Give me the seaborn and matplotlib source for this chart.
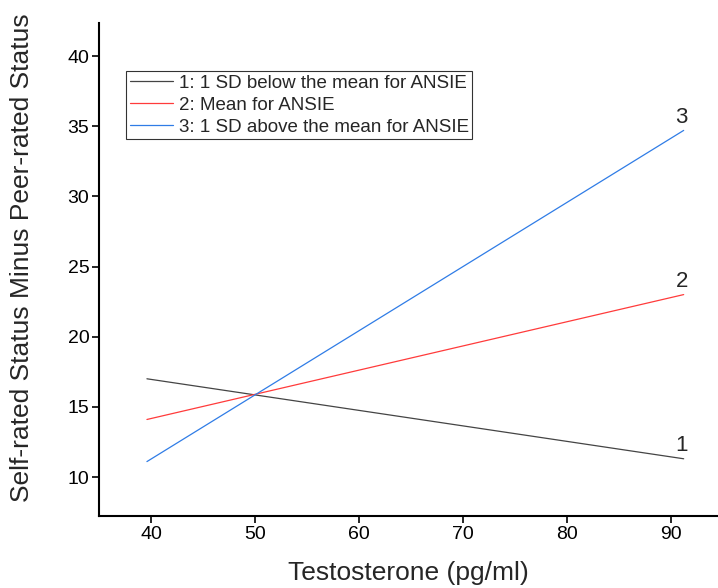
import matplotlib
matplotlib.use("Agg")
import matplotlib.pyplot as plt
import seaborn as sns
import pandas as pd

# Data
testosterone = [39.6, 91.2]
below_mean = [17.0, 11.3]
mean_ansie = [14.1, 23.0]
above_mean = [11.1, 34.7]
series_names = ["1: 1 SD below the mean for ANSIE",
                "2: Mean for ANSIE",
                "3: 1 SD above the mean for ANSIE"]
end_labels = ["1", "2", "3"]
x_ticks = [40, 50, 60, 70, 80, 90]
y_ticks = [10, 15, 20, 25, 30, 35, 40]

sns.set_style("ticks")
plt.rcParams['font.family'] = ['Liberation Sans', 'DejaVu Sans']

rows = []
for name, vals in zip(series_names, [below_mean, mean_ansie, above_mean]):
    for x, y in zip(testosterone, vals):
        rows.append({"Testosterone": x, "Value": y, "Series": name})
df = pd.DataFrame(rows)

colors = ["#444444", "#ff3b3b", "#2f7ce6"]
palette = dict(zip(series_names, colors))

fig = plt.figure(figsize=(7.18, 5.88), dpi=100)
ax = fig.add_axes([0.138, 0.1224, 0.862, 0.8384])
sns.lineplot(data=df, x="Testosterone", y="Value", hue="Series",
             palette=palette, linewidth=0.9, ax=ax)

ax.set_xlim(35.0, 94.5)
ax.set_ylim(7.22, 42.35)
ax.set_xticks(x_ticks)
ax.set_yticks(y_ticks)
ax.tick_params(direction="out", length=5, width=1.2, labelsize=14, pad=2, colors="black")
for s in ["top", "right"]:
    ax.spines[s].set_visible(False)
for s in ["left", "bottom"]:
    ax.spines[s].set_linewidth(1.5)
    ax.spines[s].set_color("black")

ax.set_xlabel("Testosterone (pg/ml)", fontsize=19, labelpad=13)
ax.set_ylabel("Self-rated Status Minus Peer-rated Status", fontsize=19)
ax.yaxis.set_label_coords(-0.105, 0.525)

for lab, vals in zip(end_labels, [below_mean, mean_ansie, above_mean]):
    ax.annotate(lab, xy=(testosterone[-1], vals[-1]), xytext=(3, 2),
                textcoords="offset points", ha="right", va="bottom", fontsize=16)

leg = ax.legend(loc="upper left", bbox_to_anchor=(0.0436, 0.9026), frameon=True,
                fancybox=False, fontsize=13.5, handlelength=2.3, handletextpad=0.3,
                borderpad=0.2, labelspacing=0.25, borderaxespad=0)
leg.get_frame().set_edgecolor("black")
leg.get_frame().set_linewidth(0.8)

fig.savefig("out.png", dpi=100)
